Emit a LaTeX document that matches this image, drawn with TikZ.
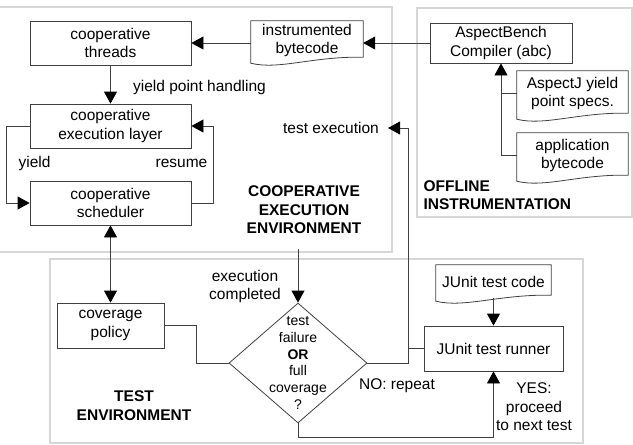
\documentclass[tikz,border=0pt]{standalone}
\usepackage{fontspec}
\setmainfont{Liberation Sans}
\usetikzlibrary{arrows.meta,shapes.geometric,calc}

\begin{document}
\begin{tikzpicture}[x=1pt,y=-1pt,
    font=\fontsize{15.5}{18.5}\selectfont,
    line/.style={draw=black!75,line width=0.8pt},
    box/.style={line,align=center,inner sep=0pt},
    cbox/.style={box,minimum width=161pt,minimum height=44pt},
    doc/.style={align=center,inner sep=0pt},
    frame/.style={draw=black!16,line width=1.3pt},
    tip/.style={-{Triangle[length=12pt,width=13pt,color=black]}},
    dtip/.style={{Triangle[length=12pt,width=13pt,color=black]}-{Triangle[length=12pt,width=13pt,color=black]}},
    lbl/.style={font=\fontsize{15.5}{18.5}\selectfont\bfseries,align=center}]

  \useasboundingbox (0,0) rectangle (633,445);

  % frames
  \draw[frame] (-5,7) rectangle (392,252);
  \draw[frame] (417,8) rectangle (632,217);
  \draw[frame] (50,259) rectangle (583,443);

  \node[cbox] (thr) at (110.5,43) {cooperative\\threads};
  \node[cbox] (layer) at (110.5,126) {cooperative\\execution layer};
  \node[cbox] (sched) at (110.5,203) {cooperative\\scheduler};
  \node[box,minimum width=142pt,minimum height=40pt] (abc) at (501,43) {AspectBench\\Compiler (abc)};
  \node[box,minimum width=107pt,minimum height=45pt] (cov) at (110.5,325.5) {coverage\\policy};
  \node[box,minimum width=139pt,minimum height=45pt] (runner) at (493.5,348.5) {JUnit test runner};
  \node[line,diamond,minimum width=138pt,minimum height=120pt,inner sep=0pt] (dec) at (298,363) {};
  \node[font=\fontsize{14}{16.8}\selectfont,align=center] (dectxt) at (dec.center) {test\\failure\\\textbf{OR}\\full\\coverage\\?};

  \node[doc,minimum width=112pt,minimum height=39pt] (ibc) at (307,40.5) {instrumented\\bytecode};
  \node[doc,minimum width=111pt,minimum height=45pt] (ajspec) at (572.5,93.5) {AspectJ yield\\point specs.};
  \node[doc,minimum width=111pt,minimum height=45pt] (appbc) at (572.5,155.5) {application\\bytecode};
  \node[doc,minimum width=115pt,minimum height=33pt] (jcode) at (493.5,281.5) {JUnit test code};

  \foreach \d in {ibc,ajspec,appbc,jcode}{
    \draw[line] (\d.north west) -- (\d.north east) -- ($(\d.south east)+(0,-3)$)
      .. controls ($(\d.south west)!0.55!(\d.south east)+(0,-4)$) and ($(\d.south west)!0.25!(\d.south east)+(0,10)$)
      .. ($(\d.south west)+(0,3)$) -- cycle;
  }

  \node (yph) at (199.5,87) {yield point handling};
  \node (ylab) at (34.5,163) {yield};
  \node (rlab) at (181.5,163) {resume};
  \node[inner xsep=9pt] (texec) at (331,128) {test execution};
  \node[lbl] (coopenv) at (304,210) {COOPERATIVE\\EXECUTION\\ENVIRONMENT};
  \node[lbl,align=left,anchor=west] (offl) at (420,195) {OFFLINE\\INSTRUMENTATION};
  \node[lbl] (testenv) at (134,405.5) {TEST\\ENVIRONMENT};
  \node[align=center] (exc) at (245,286.5) {execution\\completed};
  \node (norep) at (397,386) {NO: repeat};
  \node[align=center] (yes) at (534,407) {YES:\\proceed\\to next test};

  \coordinate (done) at (298,249);

  \draw[line,tip] (done) -- (dec.north);
  \draw[line,tip] (abc.west) -- (abc.west -| ibc.east);
  \draw[line,tip] (ibc.west |- thr.east) -- (thr.east);
  \draw[line,tip] (thr) -- (layer);
  \draw[line,tip] (layer.west) -- ++(-23,0) |- (sched.west);
  \draw[line,tip] (sched.east) -- ++(22,0) |- (layer.east);
  \draw[line,dtip] (sched) -- (cov);
  \draw[line] (cov.east) -- ++(32,0) |- (dec.west);
  \draw[line,tip] (dec.east) -- ++(41,0) |- (texec.east);
  \draw[line] (runner.west) -- ++(-16,0);
  \draw[line,tip] (dec.south) -- ++(0,14) -| (runner.south);
  \draw[line,tip] (jcode.south) -- (runner.north);
  \draw[line,tip] (appbc.west) -| (abc.south);
  \draw[line] (ajspec.west) -- (ajspec.west -| abc.south);
\end{tikzpicture}
\end{document}
